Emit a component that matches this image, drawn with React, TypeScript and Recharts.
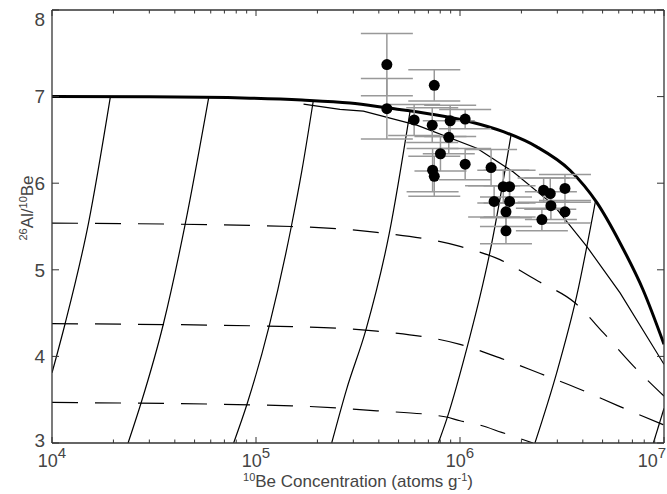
import React from 'react';
import { ComposedChart, Line, Scatter, ErrorBar, XAxis, YAxis } from 'recharts';

// curves, [10Be concentration, 26Al/10Be]
const CONSTANT_EXPOSURE = [
  [1e4, 7.0], [3.0e4, 6.998], [9.35e4, 6.982], [1.68e5, 6.96], [2.89e5, 6.925],
  [4.38e5, 6.87], [7.13e5, 6.8], [1.12e6, 6.71], [1.63e6, 6.595], [2.38e6, 6.42],
  [3.46e6, 6.15], [4.69e6, 5.775], [6.09e6, 5.31], [7.89e6, 4.77], [1e7, 4.14],
];
const STEADY_EROSION = [
  [1.71e5, 6.913], [2.58e5, 6.852], [3.36e5, 6.832], [6.14e5, 6.671], [1.21e6, 6.403],
  [1.82e6, 6.133], [2.87e6, 5.75], [4.18e6, 5.27], [6.09e6, 4.734], [1e7, 3.909],
];
const BURIAL_1 = [
  [1e4, 5.54], [1.5e5, 5.5], [3.91e5, 5.432], [1e6, 5.27], [1.57e6, 5.117],
  [2.42e6, 4.868], [3.66e6, 4.619], [5.04e6, 4.274], [7.07e6, 3.89], [1e7, 3.541],
];
const BURIAL_2 = [
  [1e4, 4.378], [1.5e5, 4.343], [3.91e5, 4.292], [1e6, 4.139], [1.6e6, 3.975],
  [2.47e6, 3.802], [3.87e6, 3.621], [5.97e6, 3.429], [1e7, 3.207],
];
const BURIAL_3 = [
  [1e4, 3.468], [1.5e5, 3.429], [3.91e5, 3.372], [8.43e5, 3.303], [1e6, 3.257],
  [1.25e6, 3.207], [1.6e6, 3.123], [2.28e6, 3.0],
];
const FAN_1 = [[1e4, 3.81], [1.16e4, 4.38], [1.51e4, 5.54], [1.93e4, 6.99]];
const FAN_2 = [[2.36e4, 3.0], [2.74e4, 3.47], [3.52e4, 4.38], [4.5e4, 5.53], [5.86e4, 6.985]];
const FAN_3 = [[7.77e4, 3.0], [9.04e4, 3.45], [1.16e5, 4.35], [1.49e5, 5.5], [1.68e5, 6.15], [1.91e5, 6.955]];
const FAN_4 = [[2.35e5, 3.0], [2.78e5, 3.62], [3.46e5, 4.31], [4.5e5, 5.42], [5.69e5, 6.83]];
const FAN_5 = [[7.83e5, 3.0], [8.61e5, 3.276], [1.119e6, 4.231], [1.253e6, 4.692], [1.4e6, 5.198], [1.78e6, 6.56]];
const FAN_6 = [[2.33e6, 3.0], [2.98e6, 3.813], [3.73e6, 4.695], [4.62e6, 5.8]];
const FAN_7 = [[8.87e6, 3.0], [1e7, 3.4]];

// samples
const SAMPLE_BE = [
  4.38e5, 4.38e5, 7.48e5, 5.96e5, 7.31e5, 8.95e5, 1.06e6, 8.81e5, 8.02e5, 7.34e5,
  7.48e5, 1.06e6, 1.42e6, 1.63e6, 1.75e6, 1.47e6, 1.75e6, 1.68e6, 1.68e6, 2.57e6,
  2.77e6, 3.27e6, 2.79e6, 3.27e6, 2.52e6,
];
const SAMPLE_RATIO = [
  7.37, 6.86, 7.13, 6.73, 6.67, 6.72, 6.74, 6.53, 6.34, 6.15,
  6.08, 6.22, 6.18, 5.96, 5.96, 5.79, 5.79, 5.67, 5.45, 5.92,
  5.88, 5.94, 5.74, 5.67, 5.58,
];
const SAMPLE_ERR = [
  0.36, 0.35, 0.18, 0.18, 0.2, 0.18, 0.11, 0.19, 0.2, 0.25,
  0.23, 0.18, 0.21, 0.19, 0.19, 0.18, 0.18, 0.17, 0.15, 0.14,
  0.18, 0.16, 0.16, 0.13, 0.13,
];

const X_MAJOR = [1e4, 1e5, 1e6, 1e7];
const X_MINOR = [
  2e4, 3e4, 4e4, 5e4, 6e4, 7e4, 8e4, 9e4,
  2e5, 3e5, 4e5, 5e5, 6e5, 7e5, 8e5, 9e5,
  2e6, 3e6, 4e6, 5e6, 6e6, 7e6, 8e6, 9e6,
];
const Y_TICKS = [3, 4, 5, 6, 7, 8];

const X_TICKS = [...X_MAJOR, ...X_MINOR].sort((a, b) => a - b);
const AXIS = '#333';
const TEXT = '#444';
const FONT = '"Liberation Sans", Arial, Helvetica, sans-serif';

const toPts = (arr: number[][]) => arr.map(([x, y]) => ({ x, y }));
const samples = SAMPLE_BE.map((x, i) => ({ x, y: SAMPLE_RATIO[i], err: SAMPLE_ERR[i] }));

const isMajor = (v: number) => X_MAJOR.includes(v);

const BottomTick = (props: any) => {
  const { x, y, payload } = props;
  const v = payload.value;
  const major = isMajor(v);
  // last label is pulled in so it stays on the page
  const lx = v === 1e7 ? x - 12 : x;
  return (
    <g>
      <line x1={x} x2={x} y1={y} y2={y - (major ? 6 : 3.5)} stroke={AXIS} strokeWidth={1} />
      {major && (
        <text x={lx} y={y + 24} textAnchor="middle" fontFamily={FONT} fontSize={18} fill={TEXT}>
          10<tspan fontSize={15} dy={-9}>{Math.round(Math.log10(v))}</tspan>
        </text>
      )}
    </g>
  );
};

const TopTick = (props: any) => {
  const { x, y, payload } = props;
  const major = isMajor(payload.value);
  return <line x1={x} x2={x} y1={y} y2={y + (major ? 6 : 3.5)} stroke={AXIS} strokeWidth={1} />;
};

const LeftTick = (props: any) => {
  const { x, y, payload } = props;
  const v = payload.value;
  const shift = v === 8 ? 9 : v === 3 ? -3 : 0;
  return (
    <g>
      <line x1={x} x2={x + 7} y1={y} y2={y} stroke={AXIS} strokeWidth={1} />
      <text x={x - 7} y={y + shift} dy="0.36em" textAnchor="end" fontFamily={FONT} fontSize={19} fill={TEXT}>
        {v}
      </text>
    </g>
  );
};

const RightTick = (props: any) => {
  const { x, y } = props;
  return <line x1={x} x2={x - 7} y1={y} y2={y} stroke={AXIS} strokeWidth={1} />;
};

const thin = { stroke: '#000', strokeWidth: 1.2 };

const App = () => {
  const curve = (data: number[][], key: string, extra: any = {}, type: any = 'monotone') => (
    <Line
      key={key}
      data={toPts(data)}
      dataKey="y"
      type={type}
      dot={false}
      activeDot={false}
      isAnimationActive={false}
      {...thin}
      {...extra}
    />
  );

  return (
    <div style={{ position: 'absolute', left: 0, top: 0, width: 667, height: 494, background: '#fff' }}>
      <ComposedChart width={667} height={494} margin={{ top: 9, right: 2, bottom: 0, left: 0 }}>
        <XAxis
          type="number"
          dataKey="x"
          scale="log"
          domain={[1e4, 1e7]}
          allowDataOverflow
          ticks={X_TICKS}
          interval={0}
          height={51}
          tickSize={0}
          tickMargin={0}
          tickLine={false}
          tick={BottomTick}
          axisLine={{ stroke: AXIS, strokeWidth: 1.3 }}
        />
        <XAxis
          xAxisId="top"
          orientation="top"
          type="number"
          dataKey="x"
          scale="log"
          domain={[1e4, 1e7]}
          allowDataOverflow
          ticks={X_TICKS}
          interval={0}
          height={1}
          tickSize={0}
          tickMargin={0}
          tickLine={false}
          tick={TopTick}
          axisLine={{ stroke: AXIS, strokeWidth: 1.3 }}
        />
        <YAxis
          type="number"
          dataKey="y"
          domain={[3, 8]}
          allowDataOverflow
          ticks={Y_TICKS}
          interval={0}
          width={52}
          tickSize={0}
          tickMargin={0}
          tickLine={false}
          tick={LeftTick}
          axisLine={{ stroke: AXIS, strokeWidth: 1.3 }}
        />
        <YAxis
          yAxisId="right"
          orientation="right"
          type="number"
          dataKey="y"
          domain={[3, 8]}
          allowDataOverflow
          ticks={Y_TICKS}
          interval={0}
          width={1}
          tickSize={0}
          tickMargin={0}
          tickLine={false}
          tick={RightTick}
          axisLine={{ stroke: AXIS, strokeWidth: 1.3 }}
        />

        {curve(BURIAL_1, 'b1', { strokeDasharray: '26 17' })}
        {curve(BURIAL_2, 'b2', { strokeDasharray: '26 17' })}
        {curve(BURIAL_3, 'b3', { strokeDasharray: '26 17' })}
        {curve(FAN_1, 'f1')}
        {curve(FAN_2, 'f2')}
        {curve(FAN_3, 'f3')}
        {curve(FAN_4, 'f4')}
        {curve(FAN_5, 'f5')}
        {curve(FAN_6, 'f6')}
        {curve(FAN_7, 'f7', {}, 'linear')}
        {curve(STEADY_EROSION, 'se', {}, 'linear')}
        {/* the thick curve is tied to the top/right axes, which share the same scales */}
        {curve(CONSTANT_EXPOSURE, 'ce', { strokeWidth: 3, xAxisId: 'top', yAxisId: 'right' })}

        <Scatter
          data={samples}
          dataKey="y"
          isAnimationActive={false}
          shape={(p: any) => <circle cx={p.cx} cy={p.cy} r={5.5} fill="#000" />}
        >
          <ErrorBar dataKey="err" direction="y" width={26} stroke="#999" strokeWidth={1.5} />
        </Scatter>
      </ComposedChart>

      <svg
        width={667}
        height={494}
        style={{ position: 'absolute', left: 0, top: 0, pointerEvents: 'none' }}
        fontFamily={FONT}
        fill={TEXT}
      >
        <text transform="translate(33,208) rotate(-90)" textAnchor="middle" fontSize={17}>
          <tspan fontSize={11} dy={-6}>26</tspan>
          <tspan dy={6}>Al/</tspan>
          <tspan fontSize={11} dy={-6}>10</tspan>
          <tspan dy={6}>Be</tspan>
        </text>
        <text x={358} y={487} textAnchor="middle" fontSize={17}>
          <tspan fontSize={11} dy={-6}>10</tspan>
          <tspan dy={6}>Be Concentration (atoms g</tspan>
          <tspan fontSize={11} dy={-6}>-1</tspan>
          <tspan dy={6}>)</tspan>
        </text>
      </svg>
    </div>
  );
};

export default App;
